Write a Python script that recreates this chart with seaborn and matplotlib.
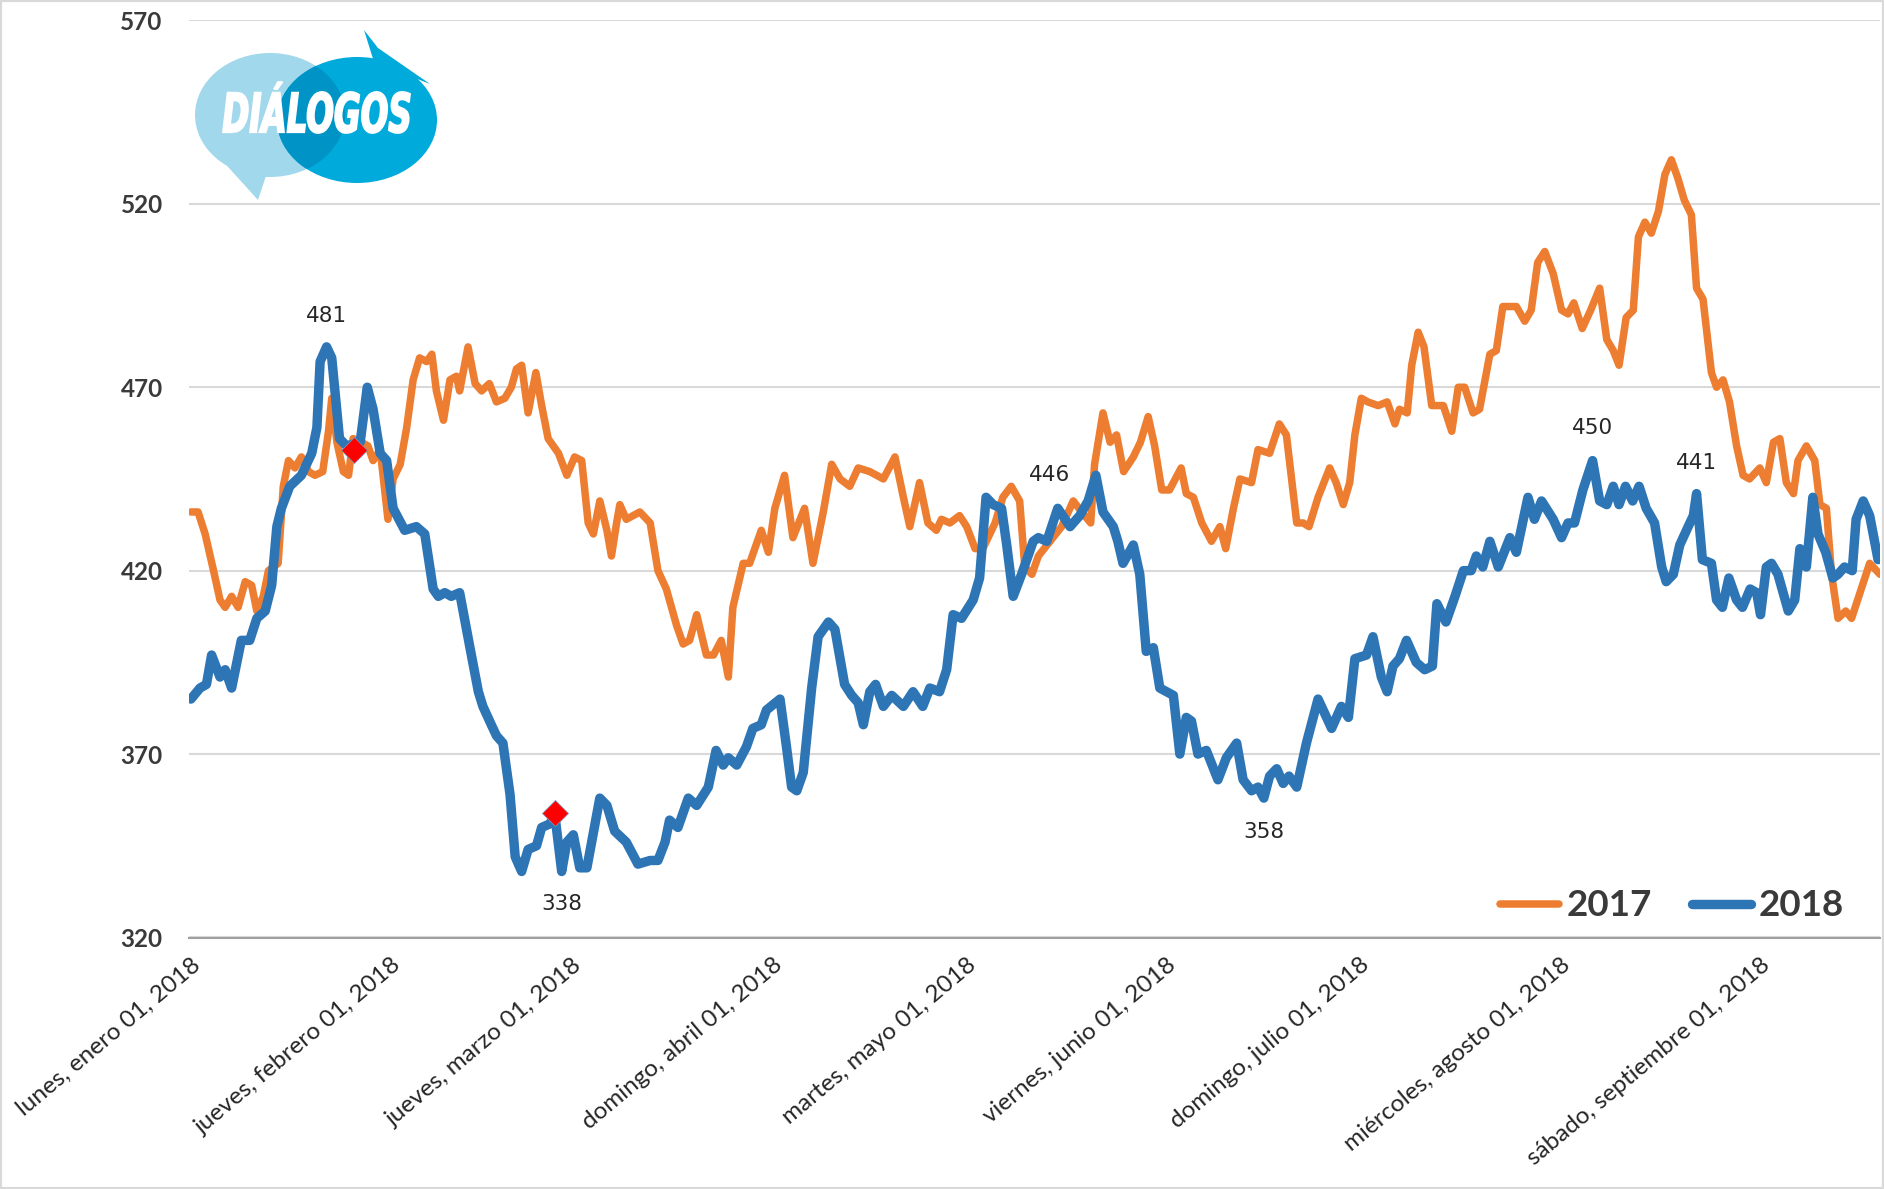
import pandas as pd
import matplotlib
matplotlib.use("Agg")
import matplotlib.pyplot as plt
import matplotlib.dates as mdates
import seaborn as sns
from matplotlib.patches import Ellipse, Polygon, PathPatch, Rectangle
from matplotlib.textpath import TextPath
from matplotlib.font_manager import FontProperties
from matplotlib.transforms import Affine2D

# days counted from 1 Jan 2018
dias_2018 = [0, 1.4, 2.4, 3.2, 4.5, 5.3, 6.3, 7.8, 9.1, 10.2, 11.5, 12.5, 13.3, 14.0, 15.3, 17.1,
             18.7, 19.5, 20.0, 21.0, 21.8, 23.0, 24.1, 26.2, 27.3, 28.2, 29.3, 30.3, 31.3, 33.1,
             34.9, 36.2, 37.5, 38.3, 39.3, 40.3, 41.6, 43.2, 44.5, 45.2, 46.5, 47.3, 48.3, 49.4,
             50.2, 51.2, 52.2, 53.5, 54.3, 55.6, 56.3, 57.4, 58.2, 59.2, 60.2, 61.3, 63.3, 64.4,
             65.6, 67.4, 69.2, 71.1, 72.3, 73.4, 74.1, 75.4, 77.0, 78.3, 80.1, 81.3, 82.4, 83.2,
             84.5, 86.0, 87.0, 88.3, 89.1, 91.2, 92.2, 93.0, 93.8, 94.8, 96.1, 97.1, 98.7, 99.7,
             101.2, 102.3, 103.3, 104.1, 105.1, 106.0, 107.2, 108.5, 110.3, 111.8, 113.3, 114.4,
             115.9, 117.0, 118.0, 119.3, 121.1, 122.1, 123.1, 124.2, 125.5, 126.3, 127.3, 128.6,
             130.4, 131.2, 132.5, 134.2, 136.1, 137.6, 138.9, 140.1, 141.2, 142.8, 143.5, 144.3,
             145.9, 146.9, 147.9, 149.0, 150.0, 152.1, 153.1, 154.1, 154.9, 155.9, 157.2, 159.0,
             160.3, 161.9, 162.9, 164.2, 165.2, 166.1, 167.0, 168.1, 169.1, 170.0, 171.2, 172.7,
             174.5, 176.6, 178.1, 179.2, 180.2, 182.0, 183.0, 184.3, 185.2, 186.1, 187.1, 188.2,
             189.7, 191.0, 192.2, 192.9, 194.3, 195.7, 197.0, 198.2, 199.0, 200.0, 201.1, 202.4,
             204.2, 205.2, 207.0, 208.0, 209.1, 210.9, 212.2, 213.2, 214.2, 215.5, 217.0, 218.1,
             219.2, 220.2, 221.1, 222.1, 223.2, 224.2, 225.3, 226.6, 227.7, 228.4, 229.5, 230.5,
             231.8, 232.6, 233.1, 234.0, 235.4, 236.2, 237.1, 238.1, 239.3, 240.2, 241.4, 242.4,
             243.0, 243.9, 244.7, 245.7, 247.3, 248.3, 249.1, 250.1, 251.1, 251.9, 253.1, 254.2,
             255.0, 256.0, 257.2, 257.8, 258.9, 259.9, 261.2]
valores_2018 = [385, 388, 389, 397, 391, 393, 388, 401, 401, 407, 409, 416, 432, 437, 443, 446,
                452, 459, 477, 481, 478, 456, 454, 455, 470, 464, 452, 450, 437, 431,
                432, 430, 415, 413, 414, 413, 414, 399, 387, 383, 378, 375, 373, 359,
                342, 338, 344, 345, 350, 351, 354, 338, 346, 348, 339, 339, 358, 356,
                349, 346, 340, 341, 341, 346, 352, 350, 358, 356, 361, 371, 367, 369,
                367, 372, 377, 378, 382, 385, 372, 361, 360, 365, 388, 402, 406, 404,
                389, 386, 384, 378, 387, 389, 383, 386, 383, 387, 383, 388,
                387, 393, 408, 407, 412, 418, 440, 438, 437, 427, 413, 419,
                428, 429, 428, 437, 432, 435, 439, 446, 436, 432, 428, 422,
                427, 419, 398, 399, 388, 386, 370, 380, 379, 370, 371, 363,
                369, 373, 363, 360, 361, 358, 364, 366, 362, 364, 361, 373,
                385, 377, 383, 380, 396, 397, 402, 391, 387, 394, 396, 401,
                395, 393, 394, 411, 406, 413, 420, 420, 424, 421, 428, 421,
                429, 425, 440, 434, 439, 434, 429, 433, 433, 442, 450, 439,
                438, 443, 438, 443, 439, 443, 437, 433, 421, 417, 419, 427,
                432, 435, 441, 423, 422, 412, 410, 418, 412, 410, 415, 414,
                408, 421, 422, 419, 409, 412, 426, 421, 440, 430, 425, 418,
                419, 421, 420, 434, 439, 435, 423]

dias_2017 = [0, 1.1, 2.2, 3.5, 4.5, 5.3, 6.3, 7.3, 8.4, 9.4, 10.2, 11.2, 12.0, 13.5, 14.3, 15.1,
             16.1, 17.1, 18.2, 19.2, 20.4, 21.3, 21.8, 22.6, 23.6, 24.4, 25.1, 26.4, 27.4, 28.2,
             29.3, 30.0, 30.5, 31.3, 32.4, 33.4, 34.4, 35.4, 36.5, 37.3, 38.0, 39.1, 40.1, 41.1,
             41.6, 42.9, 44.0, 45.0, 46.2, 47.3, 48.6, 49.6, 50.4, 51.2, 52.2, 53.4, 54.3, 55.3,
             56.9, 58.2, 59.4, 60.5, 61.5, 62.3, 63.3, 64.4, 65.1, 65.9, 66.4, 67.4, 69.5, 71.1,
             72.3, 73.6, 75.2, 76.2, 77.2, 78.3, 79.8, 80.9, 82.1, 83.2, 83.9, 85.5, 86.5, 88.3,
             89.4, 90.4, 91.9, 93.2, 95.0, 96.3, 97.9, 99.2, 100.5, 102.0, 103.3, 105.1, 107.2,
             109.0, 110.3, 111.3, 112.8, 114.1, 115.4, 116.2, 117.5, 119.0, 120.1, 121.4, 122.6,
             124.5, 125.7, 127.0, 128.3, 129.1, 130.2, 131.2, 133.0, 134.8, 136.6, 137.9, 139.3,
             139.9, 141.2, 142.3, 143.3, 144.4, 145.9, 147.0, 148.2, 149.2, 150.3, 151.5, 153.3,
             154.1, 155.2, 156.5, 158.0, 159.3, 160.2, 161.4, 162.4, 164.2, 165.2, 167.0, 168.5,
             169.6, 171.2, 172.2, 173.1, 174.5, 176.3, 177.3, 178.4, 179.4, 180.2, 181.2, 182.2,
             183.8, 185.2, 186.4, 187.1, 188.3, 189.0, 190.0, 190.9, 192.1, 193.9, 195.2, 196.2,
             197.2, 198.5, 199.5, 201.1, 202.1, 203.1, 204.2, 205.2, 206.5, 207.5, 208.5, 209.6,
             210.9, 212.2, 213.2, 214.1, 215.4, 216.7, 218.1, 219.2, 220.2, 221.1, 222.2, 223.3,
             224.1, 225.1, 226.1, 227.2, 228.2, 229.2, 230.2, 231.2, 232.3, 233.1, 234.1, 235.4,
             236.2, 237.2, 238.2, 239.3, 240.3, 241.3, 242.9, 243.9, 245.0, 246.0, 247.0, 248.1,
             248.8, 250.1, 251.4, 252.2, 253.2, 254.0, 255.0, 256.2, 257.1, 258.4, 259.9, 261.5]
valores_2017 = [436, 436, 430, 420, 412, 410, 413, 410, 417, 416, 409, 413, 420, 422, 443, 450,
                448, 451, 447, 446, 447, 458, 467, 455, 447, 446, 456, 455, 454, 450,
                453, 442, 434, 445, 449, 459, 472, 478, 477, 479, 469, 461, 472, 473,
                469, 481, 471, 469, 471, 466, 467, 470, 475, 476, 463, 474, 465, 456,
                452, 446, 451, 450, 433, 430, 439, 431, 424, 433, 438, 434, 436, 433,
                420, 415, 405, 400, 401, 408, 397, 397, 401, 391, 410, 422, 422, 431,
                425, 437, 446, 429, 437, 422, 436, 449, 445, 443, 448, 447, 445,
                451, 440, 432, 444, 433, 431, 434, 433, 435, 432, 426, 426,
                433, 440, 443, 439, 421, 419, 424, 428, 432, 439, 436, 433,
                449, 463, 455, 457, 447, 451, 455, 462, 454, 442, 442, 448,
                441, 440, 433, 428, 432, 426, 437, 445, 444, 453, 452, 460,
                457, 433, 433, 432, 440, 448, 444, 438, 444, 457, 467, 466,
                465, 466, 460, 464, 463, 476, 485, 481, 465, 465, 458, 470,
                470, 463, 464, 479, 480, 492, 492, 492, 488, 491, 504, 507,
                501, 491, 490, 493, 486, 491, 497, 483, 480, 476, 489, 491,
                511, 515, 512, 518, 528, 532, 527, 521, 517, 497, 494, 474,
                470, 472, 466, 454, 446, 445, 448, 444, 455, 456, 444, 441,
                450, 454, 450, 438, 437, 419, 407, 409, 407, 414, 422, 419]

# labelled values on the 2018 line
etiq_dias = [21.0, 57.4, 140.1, 166.1, 217.0, 233.1]
etiq_valores = [481, 338, 446, 358, 450, 441]

# the two red diamonds
marca_dias = [25.2, 56.3]
marca_valores = [453, 354]

meses = pd.date_range("2018-01-01", "2018-09-01", freq="MS")
etiquetas_x = ["lunes, enero 01, 2018", "jueves, febrero 01, 2018", "jueves, marzo 01, 2018",
               "domingo, abril 01, 2018", "martes, mayo 01, 2018", "viernes, junio 01, 2018",
               "domingo, julio 01, 2018", "miércoles, agosto 01, 2018",
               "sábado, septiembre 01, 2018"]
ticks_y = [320, 370, 420, 470, 520, 570]

inicio = pd.Timestamp("2018-01-01")
df17 = pd.DataFrame({"fecha": inicio + pd.to_timedelta(dias_2017, unit="D"),
                     "valor": valores_2017, "serie": "2017"})
df18 = pd.DataFrame({"fecha": inicio + pd.to_timedelta(dias_2018, unit="D"),
                     "valor": valores_2018, "serie": "2018"})

sns.set_theme(style="white")
plt.rcParams["font.family"] = ["Lato", "DejaVu Sans"]

W, H = 1884, 1189
fig = plt.figure(figsize=(W / 100, H / 100), dpi=100)
ax = fig.add_axes([189 / W, 1 - 937.5 / H, 1691 / W, 917.1 / H])

naranja = "#ED7D31"
azul = "#2E75B6"
sns.lineplot(data=df17, x="fecha", y="valor", color=naranja, linewidth=5.4, ax=ax,
             label="2017", sort=False, solid_capstyle="round", solid_joinstyle="round", zorder=3)
sns.lineplot(data=df18, x="fecha", y="valor", color=azul, linewidth=6.8, ax=ax,
             label="2018", sort=False, solid_capstyle="round", solid_joinstyle="round", zorder=4)

marca_fechas = inicio + pd.to_timedelta(marca_dias, unit="D")
ax.plot(marca_fechas, marca_valores, linestyle="none", marker="D", markersize=13,
        markerfacecolor="#FF0000", markeredgecolor="#8090b0", markeredgewidth=0.6, zorder=5)

# data labels
desplaz = [(0, 31), (0, -33), (-46, 0), (0, -34), (0, 33), (0, 31)]
etiq_fechas = inicio + pd.to_timedelta(etiq_dias, unit="D")
for f, v, (dx, dy) in zip(etiq_fechas, etiq_valores, desplaz):
    ax.annotate(str(v), xy=(mdates.date2num(f), v), xytext=(dx, dy),
                textcoords="offset pixels", ha="center", va="center",
                fontsize=15.5, family="DejaVu Sans", color="#262626", zorder=6)

ax.set_xlim(inicio - pd.Timedelta(days=0.3), inicio + pd.Timedelta(days=261.5))
ax.set_ylim(320, 570)
ax.set_yticks(ticks_y)
ax.set_yticklabels([str(t) for t in ticks_y], fontsize=17.5, fontweight="bold", color="#3a3a3a")
ax.set_xticks(meses)
ax.set_xticklabels(etiquetas_x, rotation=40, ha="right", rotation_mode="anchor",
                   fontsize=17.5, color="#262626")
ax.tick_params(axis="y", length=0, pad=19)
ax.tick_params(axis="x", length=0, pad=12)
ax.set_xlabel("")
ax.set_ylabel("")

ax.yaxis.grid(True, color="#D9D9D9", linewidth=1.5)
ax.xaxis.grid(False)
for s in ["top", "right", "left"]:
    ax.spines[s].set_visible(False)
ax.spines["bottom"].set_color("#A0A0A0")
ax.spines["bottom"].set_linewidth(1.5)

leg = ax.legend(loc="center left", bbox_to_anchor=(1500 / W, 1 - 906 / H),
                bbox_transform=fig.transFigure, frameon=False, ncol=2,
                handlelength=1.6, handletextpad=0.2, columnspacing=1.1,
                borderpad=0, borderaxespad=0,
                prop={"family": "Lato", "weight": "bold", "size": 26.5})
for t in leg.get_texts():
    t.set_color("#3a3a3a")

# logo
logo = fig.add_axes([190 / W, 1 - 205 / H, 250 / W, 180 / H])
logo.set_xlim(190, 440)
logo.set_ylim(205, 25)
logo.axis("off")
claro = "#A2D8EC"
oscuro = "#00AADB"
logo.add_patch(Ellipse((270, 115), 150, 124, color=claro, lw=0))
logo.add_patch(Polygon([(220, 158), (258, 200), (268, 170)], closed=True, color=claro, lw=0))
burbuja = Ellipse((357, 120), 160, 126, color=oscuro, lw=0)
logo.add_patch(burbuja)
logo.add_patch(Polygon([(364, 30), (378, 48), (430, 84), (374, 62)], closed=True,
                       color=oscuro, lw=0))
cruce = Ellipse((270, 115), 150, 124, color="#0093C6", lw=0)
logo.add_patch(cruce)
cruce.set_clip_path(burbuja)

fp = FontProperties(family="DejaVu Sans", weight="bold", style="oblique")
tp = TextPath((0, 0), "DIÁLOGOS", size=10, prop=fp)
bb = tp.get_extents()
tr = (Affine2D().translate(-bb.x0, -bb.y1)
      .scale((410 - 223) / bb.width, -(133 - 82) / bb.height).translate(223, 82))
logo.add_patch(PathPatch(tr.transform_path(tp), facecolor="white", edgecolor="white",
                         lw=1.3))

fig.patches.append(Rectangle((0, 0), 1, 1, transform=fig.transFigure, fill=False,
                             edgecolor="#D9D9D9", linewidth=3))

assert len(dias_2018) == len(valores_2018)
assert len(dias_2017) == len(valores_2017)

fig.savefig("out.png", dpi=100)
